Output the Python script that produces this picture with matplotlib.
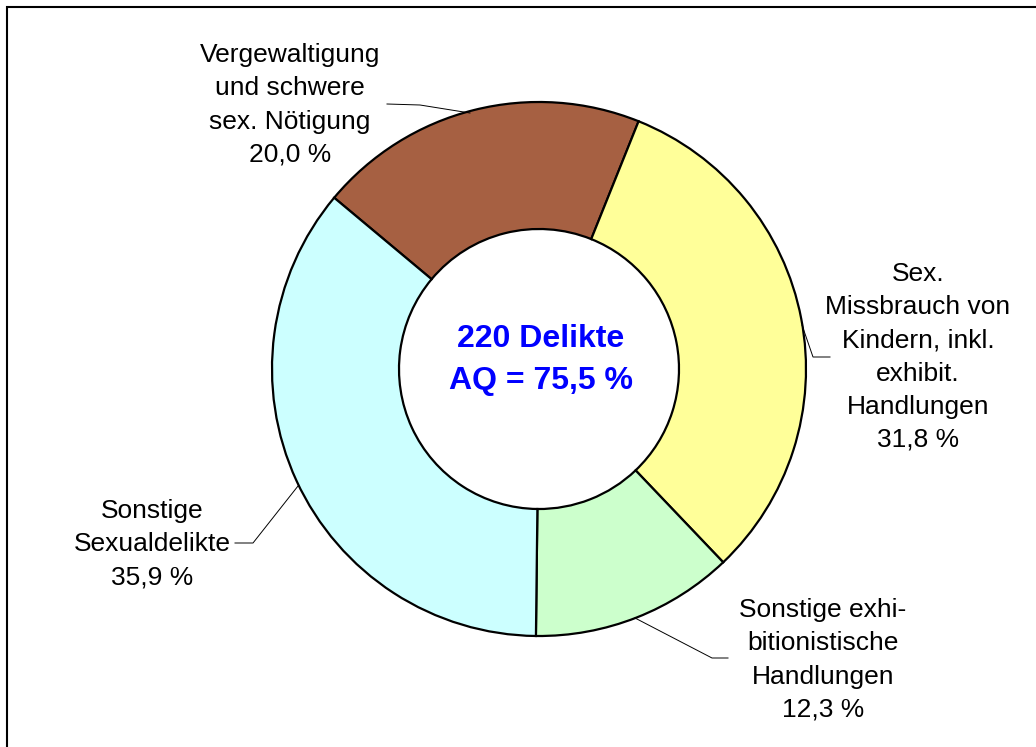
import numpy as np
import matplotlib
matplotlib.use("Agg")
import matplotlib.pyplot as plt
from matplotlib.patches import Rectangle

W, H = 1036, 747

# Daten
kategorien = ["Vergewaltigung\nund schwere\nsex. Nötigung",
              "Sex.\nMissbrauch von\nKindern, inkl.\nexhibit.\nHandlungen",
              "Sonstige exhi-\nbitionistische\nHandlungen",
              "Sonstige\nSexualdelikte"]
anteile = [20.0, 31.8, 12.3, 35.9]
farben = ["#A66042", "#FFFF99", "#CCFFCC", "#CCFFFF"]
titel_mitte = "220 Delikte\nAQ = 75,5 %"

plt.rcParams['font.family'] = ['Liberation Sans', 'DejaVu Sans']

fig = plt.figure(figsize=(W / 100, H / 100), dpi=100)
ax = fig.add_axes([0, 0, 1, 1])

def px(x, y):
    # Pixelkoordinaten (y nach unten) -> Achsenkoordinaten
    return x, H - y

cx, cy = px(539, 369)
r_aussen, r_innen = 267, 140

ax.pie(anteile, colors=farben, startangle=140.1, counterclock=False,
       radius=r_aussen, center=(cx, cy),
       wedgeprops=dict(width=r_aussen - r_innen, edgecolor='black', linewidth=1.6))

ax.set_xlim(0, W)
ax.set_ylim(0, H)
ax.set_aspect('equal')
ax.axis('off')

# Beschriftungen mit Führungslinien
text_pos = [(290, 105), (918, 357), (823, 660), (152, 544)]
linien = [
    [(387, 104), (420, 105), (470, 113)],
    [(830, 357), (813, 357), (802, 325)],
    [(728, 658), (712, 658), (635, 618)],
    [(235, 543), (253, 543), (298, 486)],
]

for name, wert, (tx, ty), pts in zip(kategorien, anteile, text_pos, linien):
    label = name + "\n" + f"{wert:.1f} %".replace(".", ",")
    ax.text(*px(tx, ty), label, ha='center', va='center', fontsize=19,
            linespacing=1.48, color='black')
    xs = [p[0] for p in pts]
    ys = [H - p[1] for p in pts]
    ax.plot(xs, ys, color='black', lw=0.7)

ax.text(*px(541, 360), titel_mitte, ha='center', va='center', fontsize=23,
        fontweight='bold', color='#0000FF', linespacing=1.5)

# Rahmen (nur links und oben sichtbar)
fig.add_artist(Rectangle((7 / W, -0.05), 1.2, 1 - 7 / H + 0.05, fill=False,
                         edgecolor='black', lw=1.5, transform=fig.transFigure))

fig.savefig("out.png", dpi=100)
plt.close("all")
